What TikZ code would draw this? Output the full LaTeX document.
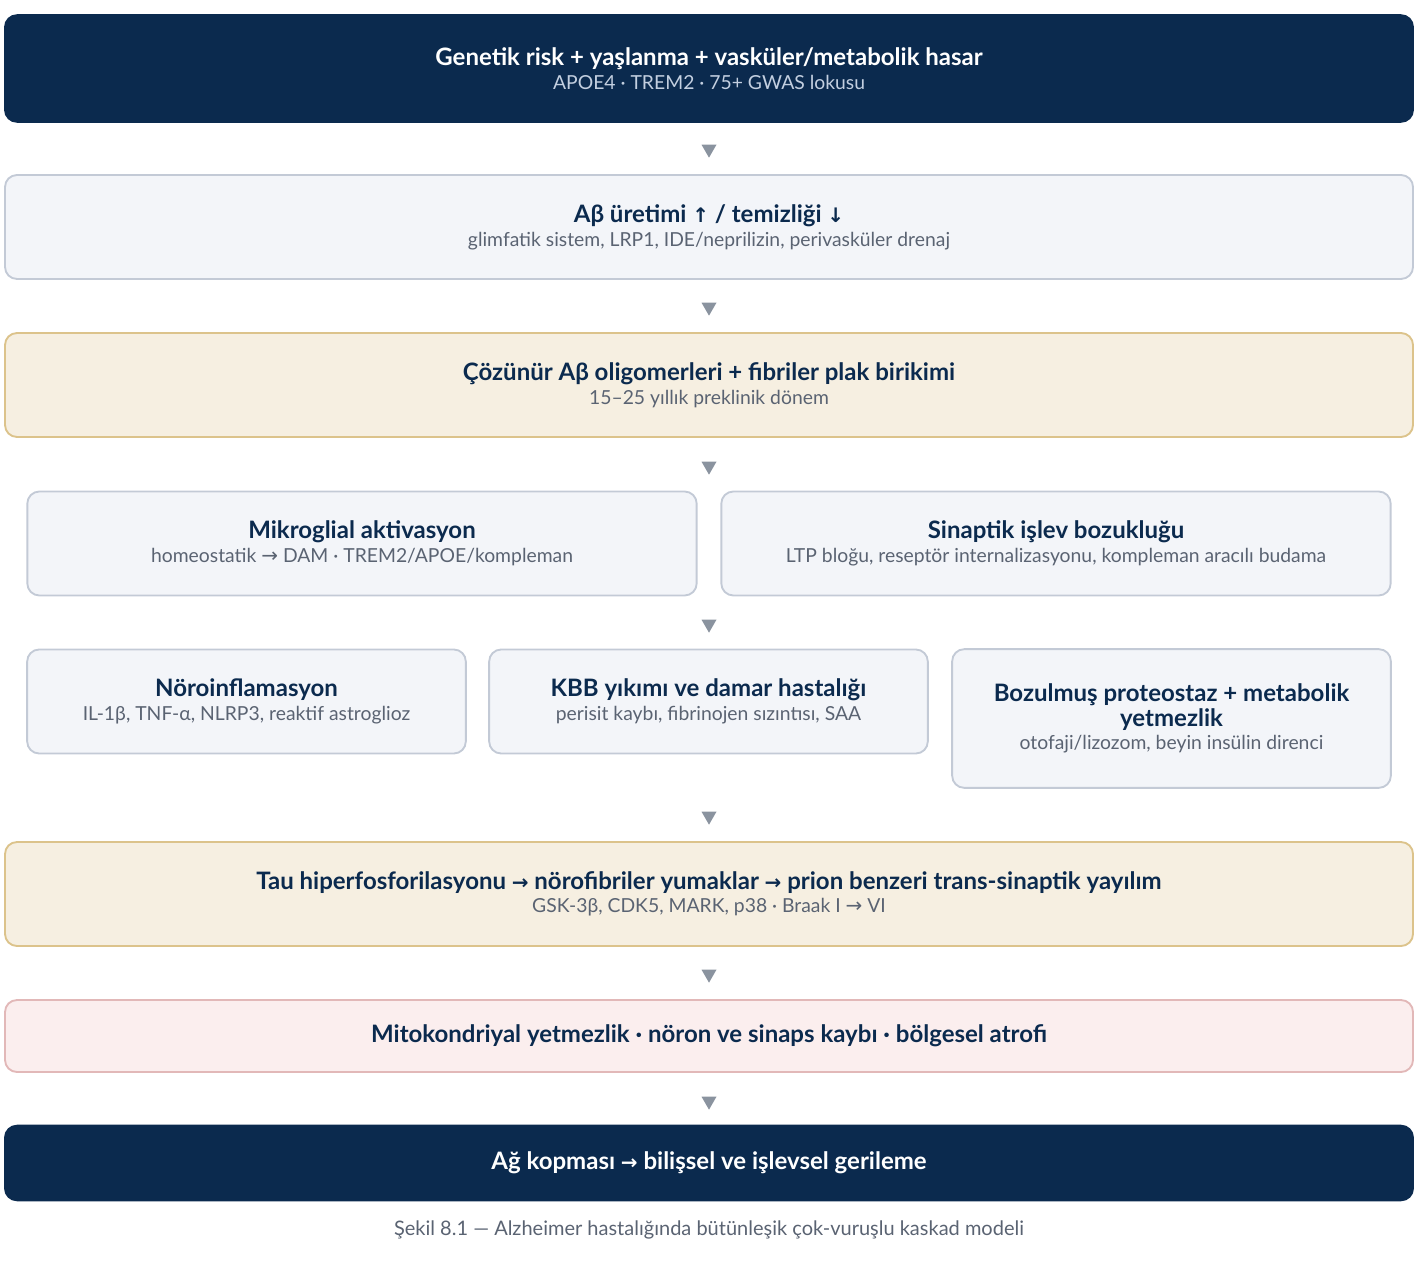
\documentclass[tikz,border=0pt]{standalone}
\usepackage{fontspec}
\setmainfont{Lato}
\newfontfamily\arrfont{DejaVu Sans}
\usetikzlibrary{shapes.geometric}
\definecolor{navy}{HTML}{0B2A4E}
\definecolor{navysub}{HTML}{C3CFE0}
\definecolor{subgray}{HTML}{5A6372}
\definecolor{greyfill}{HTML}{F3F5F9}
\definecolor{greyline}{HTML}{C3CAD6}
\definecolor{sandfill}{HTML}{F6EFE1}
\definecolor{sandline}{HTML}{DCC38B}
\definecolor{rosefill}{HTML}{FBEEEE}
\definecolor{roseline}{HTML}{E2B8B8}
\definecolor{tipgray}{HTML}{8A939F}
\newcommand{\ar}[1]{{\arrfont\fontsize{15}{15}\selectfont #1}}
\newcommand{\stage}[2]{{\fontsize{18}{24}\selectfont\bfseries #1}\\[3pt]{\fontsize{14.5}{18}\selectfont\color{subcol}#2}}
\newcommand{\stagetwo}[3]{{\fontsize{18}{24}\selectfont\bfseries #1}\\[1pt]{\fontsize{18}{24}\selectfont\bfseries #2}\\[3pt]{\fontsize{14.5}{18}\selectfont\color{subcol}#3}}
\begin{document}
\begin{tikzpicture}[x=0.75pt,y=-0.75pt]
    % Styles
    \tikzset{
        box/.style={rounded corners=9pt,line width=1.4pt,align=center,inner sep=0pt},
        dark/.style={box,fill=navy,draw=navy,text=white},
        light/.style={box,fill=greyfill,draw=greyline,text=navy},
        sand/.style={box,fill=sandfill,draw=sandline,text=navy},
        rose/.style={box,fill=rosefill,draw=roseline,text=navy},
        tip/.style={regular polygon,regular polygon sides=3,shape border rotate=180,fill=tipgray,inner sep=0pt,minimum size=13pt}
    }
    \colorlet{subcol}{subgray}
    \useasboundingbox (0,0) rectangle (1428,1269);

    %%% Stages
    \colorlet{subcol}{navysub}
    \node[dark,minimum width=1056pt,minimum height=80pt] (risk) at (709,68.5)
        {\stage{Genetik risk + yaşlanma + vasküler/metabolik hasar}{APOE4 · TREM2 · 75+ GWAS lokusu}};
    \colorlet{subcol}{subgray}
    \node[light,minimum width=1056pt,minimum height=78pt] (abeta) at (709,227)
        {\stage{Aβ üretimi \ar{↑} / temizliği \ar{↓}}{glimfatik sistem, LRP1, IDE/neprilizin, perivasküler drenaj}};
    \node[sand,minimum width=1056pt,minimum height=78pt] (oligo) at (709,385)
        {\stage{Çözünür Aβ oligomerleri + fibriler plak birikimi}{15–25 yıllık preklinik dönem}};

    % two parallel branches
    \node[light,minimum width=502pt,minimum height=78pt] (micro) at (362,543.5)
        {\stage{Mikroglial aktivasyon}{homeostatik \ar{→} DAM · TREM2/APOE/kompleman}};
    \node[light,minimum width=502pt,minimum height=78pt] (synap) at (1056,543.5)
        {\stage{Sinaptik işlev bozukluğu}{LTP bloğu, reseptör internalizasyonu, kompleman aracılı budama}};

    % three parallel branches
    \node[light,minimum width=329pt,minimum height=78pt] (neuro) at (246.5,701.5)
        {\stage{Nöroinflamasyon}{IL-1β, TNF-α, NLRP3, reaktif astroglioz}};
    \node[light,minimum width=329pt,minimum height=78pt] (kbb) at (708.5,701.5)
        {\stage{KBB yıkımı ve damar hastalığı}{perisit kaybı, fibrinojen sızıntısı, SAA}};
    \node[light,minimum width=329pt,minimum height=104pt] (prot) at (1171.5,718.5)
        {\stagetwo{Bozulmuş proteostaz + metabolik}{yetmezlik}{otofaji/lizozom, beyin insülin direnci}};

    \node[sand,minimum width=1056pt,minimum height=78pt] (tau) at (709,894)
        {\stage{Tau hiperfosforilasyonu \ar{→} nörofibriler yumaklar \ar{→} prion benzeri trans-sinaptik yayılım}{GSK-3β, CDK5, MARK, p38 · Braak I \ar{→} VI}};
    \node[rose,minimum width=1056pt,minimum height=54pt] (mito) at (709,1036)
        {{\fontsize{18}{24}\selectfont\bfseries Mitokondriyal yetmezlik · nöron ve sinaps kaybı · bölgesel atrofi}};
    \node[dark,minimum width=1056pt,minimum height=56pt] (decline) at (709,1163)
        {{\fontsize{18}{24}\selectfont\bfseries Ağ kopması \ar{→} bilişsel ve işlevsel gerileme}};
    %%%

    %%% Tips between stages
    \foreach \name/\y in {t1/149,t2/307,t3/466,t4/624,t5/816,t6/974,t7/1101}
        \node[tip] (\name) at (709,\y) {};

    % Caption
    \node[text=subgray,font=\fontsize{15}{18}\selectfont] (caption) at (709,1230)
        {Şekil 8.1 — Alzheimer hastalığında bütünleşik çok-vuruşlu kaskad modeli};
\end{tikzpicture}
\end{document}
